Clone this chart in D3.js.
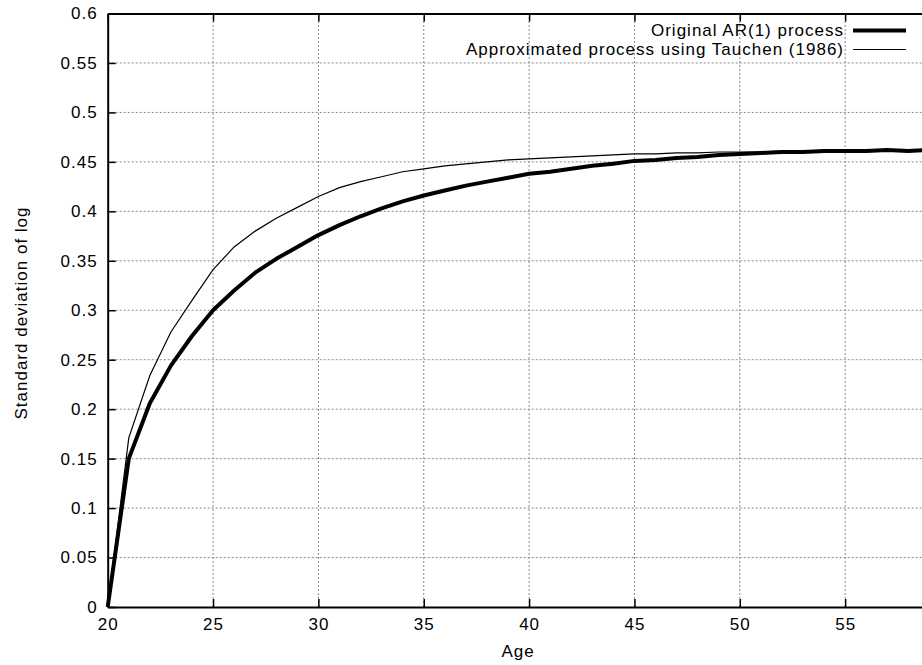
<!DOCTYPE html>
<html>
<head>
<meta charset="utf-8">
<script src="https://cdn.jsdelivr.net/npm/d3@7"></script>
<style>
  body { margin: 0; background: #fff; }
  svg { display: block; }
  text { font-family: "Liberation Sans", Arial, sans-serif; font-size: 17px; letter-spacing: 1px; fill: #000; }
</style>
</head>
<body>
<svg width="922" height="665"></svg>
<script>
"use strict";

// Data.

var Ages = d3.range(20, 61);

var OriginalSd = [
    0.000, 0.150, 0.206, 0.244, 0.274, 0.300, 0.320, 0.338, 0.352, 0.364,
    0.376, 0.386, 0.395, 0.403, 0.410, 0.416, 0.421, 0.426, 0.430, 0.434,
    0.438, 0.440, 0.443, 0.446, 0.448, 0.451, 0.452, 0.454, 0.455, 0.457,
    0.458, 0.459, 0.460, 0.460, 0.461, 0.461, 0.461, 0.462, 0.461, 0.462,
    0.462
];

var TauchenSd = [
    0.000, 0.171, 0.234, 0.278, 0.310, 0.341, 0.364, 0.380, 0.393, 0.404,
    0.415, 0.424, 0.430, 0.435, 0.440, 0.443, 0.446, 0.448, 0.450, 0.452,
    0.453, 0.454, 0.455, 0.456, 0.457, 0.458, 0.458, 0.459, 0.459, 0.460,
    0.460, 0.460, 0.461, 0.461, 0.461, 0.461, 0.461, 0.462, 0.462, 0.462,
    0.462
];

// Tick at 60 falls on the right border, outside the picture.
var XTicks = [20, 25, 30, 35, 40, 45, 50, 55];
var YTicks = [0, 0.05, 0.1, 0.15, 0.2, 0.25, 0.3, 0.35, 0.4, 0.45, 0.5, 0.55, 0.6];

var SeriesNames = ["Original AR(1) process", "Approximated process using Tauchen (1986)"];

// SVG.

var svg = d3.select("svg");

var Left = 107.7;
var Right = 950.5;   // the right border falls outside the picture
var Top = 13.5;
var Bottom = 607;

var TickLen = 8;

var x = d3.scaleLinear().domain([20, 60]).range([Left, Right]);
var y = d3.scaleLinear().domain([0, 0.6]).range([Bottom, Top]);

// Grid.

var grid = svg.append("g")
    .attr("stroke", "#888")
    .attr("stroke-width", 1)
    .attr("stroke-dasharray", "2,2");

grid.selectAll("line.gx")
    .data(XTicks.slice(1))
    .enter().append("line")
        .attr("class", "gx")
        .attr("x1", function(d){ return x(d); })
        .attr("x2", function(d){ return x(d); })
        .attr("y1", Bottom)
        .attr("y2", Top);

grid.selectAll("line.gy")
    .data(YTicks.slice(1, -1))
    .enter().append("line")
        .attr("class", "gy")
        .attr("x1", Left)
        .attr("x2", Right)
        .attr("y1", function(d){ return y(d); })
        .attr("y2", function(d){ return y(d); });

// Axes (gnuplot style: ticks inside, mirrored on top).

var fmtY = function(d){ return String(+d.toFixed(2)); };

var xAxis = svg.append("g")
    .attr("transform", "translate(0," + Bottom + ")")
    .call(d3.axisBottom(x).tickValues(XTicks).tickSizeInner(-TickLen).tickSizeOuter(0).tickPadding(11));

var xAxisTop = svg.append("g")
    .attr("transform", "translate(0," + Top + ")")
    .call(d3.axisTop(x).tickValues(XTicks).tickSizeInner(-TickLen).tickSizeOuter(0).tickFormat(""));

var yAxis = svg.append("g")
    .attr("transform", "translate(" + Left + ",0)")
    .call(d3.axisLeft(y).tickValues(YTicks).tickFormat(fmtY).tickSizeInner(-TickLen).tickSizeOuter(0).tickPadding(10));

[xAxis, xAxisTop, yAxis].forEach(function(a){
    a.attr("font-family", null).attr("font-size", null);
    a.select(".domain").attr("stroke", "#000").attr("stroke-width", 2);
    a.selectAll(".tick line").attr("stroke", "#000").attr("stroke-width", 1.5);
    a.selectAll(".tick text").attr("fill", "#000");
});
xAxis.selectAll(".tick text").attr("dy", "0.71em");

// Lines.

var MakeLine = function(values){
    return d3.line()
        .x(function(d, i){ return x(Ages[i]); })
        .y(function(d){ return y(d); })(values);
};

svg.append("path")
    .attr("d", MakeLine(TauchenSd))
    .attr("fill", "none")
    .attr("stroke", "#000")
    .attr("stroke-width", 1.2);

svg.append("path")
    .attr("d", MakeLine(OriginalSd))
    .attr("fill", "none")
    .attr("stroke", "#000")
    .attr("stroke-width", 4)
    .attr("stroke-linejoin", "round");

// Legend.

var LegendWidths = [4, 1.2];
var legend = svg.append("g");

legend.selectAll("text")
    .data(SeriesNames)
    .enter().append("text")
        .attr("x", 844)
        .attr("y", function(d, i){ return 30.5 + i * 19; })
        .attr("dy", "0.35em")
        .attr("text-anchor", "end")
        .text(function(d){ return d; });

legend.selectAll("line")
    .data(SeriesNames)
    .enter().append("line")
        .attr("x1", 853)
        .attr("x2", 906)
        .attr("y1", function(d, i){ return 30.5 + i * 19; })
        .attr("y2", function(d, i){ return 30.5 + i * 19; })
        .attr("stroke", "#000")
        .attr("stroke-width", function(d, i){ return LegendWidths[i]; });

// Axis titles.

svg.append("text")
    .attr("x", 518)
    .attr("y", 657)
    .attr("text-anchor", "middle")
    .text("Age");

svg.append("text")
    .attr("transform", "translate(27,313) rotate(-90)")
    .attr("text-anchor", "middle")
    .text("Standard deviation of log");
</script>
</body>
</html>
